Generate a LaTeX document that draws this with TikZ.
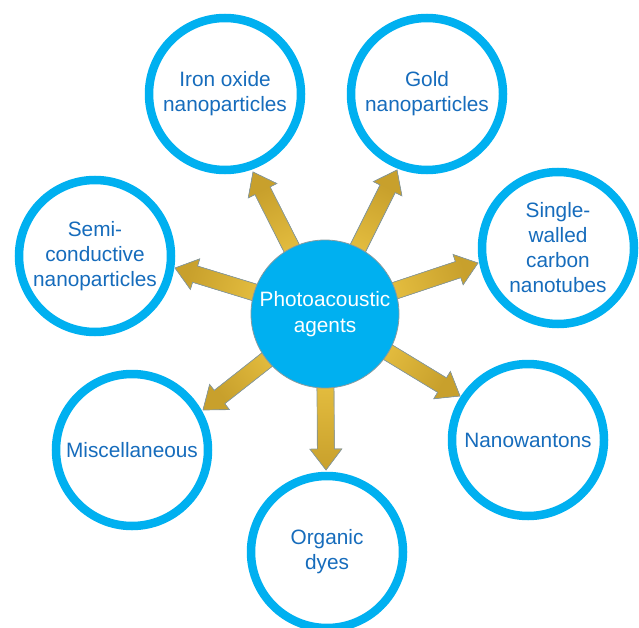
\documentclass[tikz,border=0pt]{standalone}
\usepackage{fontspec}
\setmainfont{Liberation Sans}
\usetikzlibrary{calc,backgrounds}

\definecolor{ringblue}{RGB}{0,176,240}
\definecolor{textblue}{RGB}{22,108,188}
\definecolor{goldlight}{RGB}{250,212,78}
\definecolor{golddark}{RGB}{200,160,44}
\definecolor{edgegray}{RGB}{135,155,160}

\tikzset{
  agent/.style={circle, draw=ringblue, line width=8.5pt, fill=white,
    minimum size=152pt, inner sep=0pt, align=center, text=textblue,
    font=\fontsize{20.8}{25}\selectfont},
  hub/.style={circle, draw=edgegray, line width=0.8pt, fill=ringblue,
    minimum size=148pt, inner sep=0pt, align=center, text=white,
    font=\fontsize{20.8}{26}\selectfont},
  goldarrow/.style={draw=edgegray, line width=0.7pt,
    left color=goldlight, right color=golddark}
}

\begin{document}
\begin{tikzpicture}[x=1pt,y=-1pt]
\useasboundingbox (0,0) rectangle (639,628);

% centre and the seven groups
\node [hub] (pa) at (325,314) {Photoacoustic\\agents};
\node [agent] (iron)  at (225,94)  {Iron oxide\\nanoparticles};
\node [agent] (gold)  at (427,94)  {Gold\\nanoparticles};
\node [agent] (swcnt) at (558,248) {Single-\\walled\\carbon\\nanotubes};
\node [agent] (nanow) at (528,440) {Nanowantons};
\node [agent] (dyes)  at (327,552) {Organic\\dyes};
\node [agent] (misc)  at (132,450) {Miscellaneous};
\node [agent] (semi)  at (95,256)  {Semi-\\conductive\\nanoparticles};

% arrow tips
\coordinate (ironT)  at (253,172);
\coordinate (goldT)  at (397,170);
\coordinate (swcntT) at (478,263);
\coordinate (nanowT) at (460,396);
\coordinate (dyesT)  at (326,470);
\coordinate (miscT)  at (203,410);
\coordinate (semiT)  at (175,268);

\begin{pgfonlayer}{background}
\foreach \tip/\ang in {ironT/206.6, goldT/153.1, swcntT/108.3, nanowT/58.9,
                       dyesT/0, miscT/-51.8, semiT/253} {
  \coordinate (h) at ($(\tip)!21pt!(pa.center)$);
  \filldraw [goldarrow, shading angle=\ang]
    ($(pa.center)!8.5pt!90:(\tip)$) -- ($(h)!8.5pt!90:(\tip)$)
    -- ($(h)!16pt!90:(\tip)$) -- (\tip) -- ($(h)!16pt!-90:(\tip)$)
    -- ($(h)!8.5pt!-90:(\tip)$) -- ($(pa.center)!8.5pt!-90:(\tip)$) -- cycle;
}
\end{pgfonlayer}
\end{tikzpicture}
\end{document}
